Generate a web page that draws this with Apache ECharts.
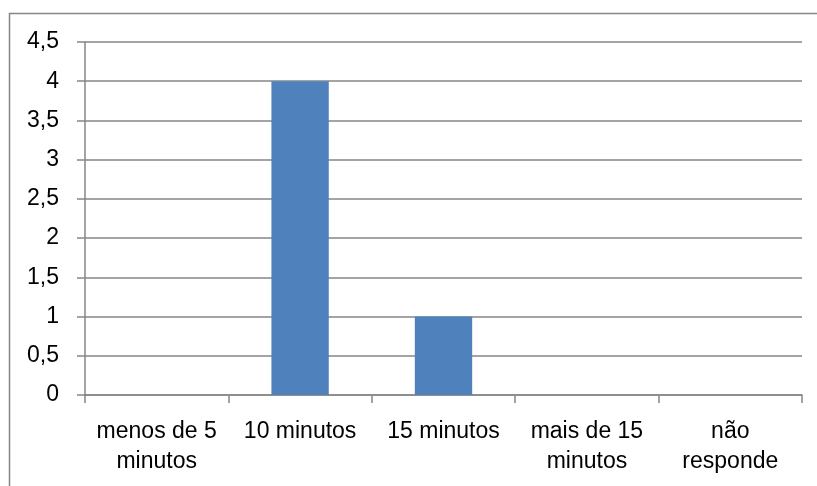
<!DOCTYPE html>
<html><head><meta charset="utf-8">
<script src="https://cdn.jsdelivr.net/npm/echarts@6/dist/echarts.min.js"></script>
<style>html,body{margin:0;padding:0;background:#fff}#c{width:817px;height:486px}</style>
</head><body><div id="c"></div>
<script>
var categories = ["menos de 5\nminutos", "10 minutos", "15 minutos", "mais de 15\nminutos", "não\nresponde"];
var values = [0, 4, 1, 0, 0];
var chart = echarts.init(document.getElementById('c'), null, {renderer: 'canvas'});
var font = '"Liberation Sans", Arial, sans-serif';
chart.setOption({
  animation: false,
  backgroundColor: '#fff',
  graphic: [{
    type: 'rect', shape: {x: 9.5, y: 13.5, width: 900, height: 600},
    style: {fill: 'none', stroke: '#868686', lineWidth: 1.5}, silent: true
  }],
  grid: {left: 85, right: 15, top: 42, bottom: 91, containLabel: false},
  xAxis: {
    type: 'category', data: categories,
    axisLine: {lineStyle: {color: '#868686', width: 1.5}},
    axisTick: {show: true, length: 8, alignWithLabel: false, lineStyle: {color: '#868686', width: 1.5}},
    axisLabel: {color: '#000', fontFamily: font, fontSize: 23, lineHeight: 30, margin: 22, interval: 0}
  },
  yAxis: {
    type: 'value', min: 0, max: 4.5, interval: 0.5,
    axisLine: {show: true, lineStyle: {color: '#868686', width: 1.5}},
    axisTick: {show: true, length: 8, lineStyle: {color: '#868686', width: 1.5}},
    splitLine: {lineStyle: {color: '#868686', width: 1.5}},
    axisLabel: {color: '#000', fontFamily: font, fontSize: 23, margin: 26,
      formatter: function (v) { return String(v).replace('.', ','); }}
  },
  series: [{
    type: 'bar', data: values, barWidth: '40%',
    itemStyle: {color: '#4F81BD'}
  }]
});
</script></body></html>
